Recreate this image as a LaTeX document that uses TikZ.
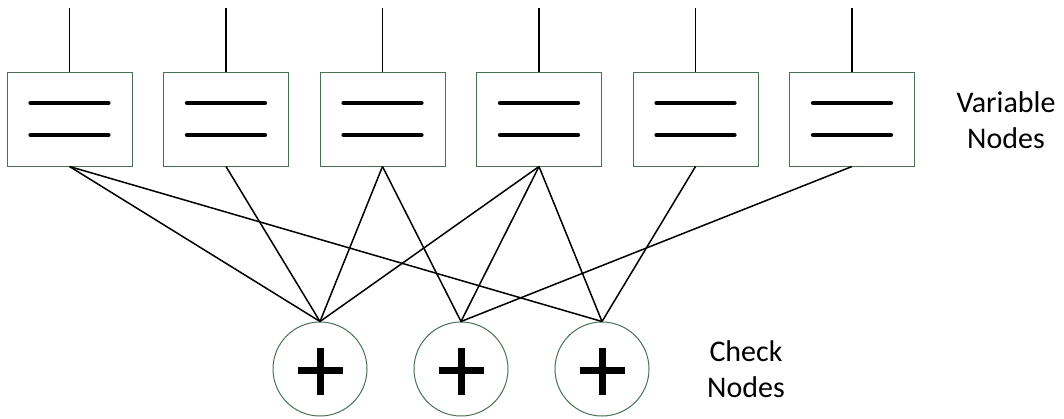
\documentclass[tikz,border=0pt]{standalone}
\usepackage{fontspec}
\setmainfont{Carlito}
\usepackage{tikz}
\definecolor{boxgreen}{RGB}{72,112,84}

\begin{document}
\begin{tikzpicture}[x=1pt,y=-1pt,
  varnode/.style={draw=boxgreen, line width=1pt, rectangle, minimum width=125pt, minimum height=94pt, inner sep=0pt,
    path picture={\draw[black, line width=4.2pt, line cap=round] ([xshift=-39pt,yshift=16pt]path picture bounding box.center)--++(78pt,0pt);
                  \draw[black, line width=4.2pt, line cap=round] ([xshift=-39pt,yshift=-16pt]path picture bounding box.center)--++(78pt,0pt);}},
  checknode/.style={draw=boxgreen, line width=1pt, circle, minimum size=94pt, inner sep=0pt,
    path picture={\draw[black, line width=7pt] ([xshift=-22.5pt,yshift=-1.5pt]path picture bounding box.center)--++(45pt,0pt);
                  \draw[black, line width=7pt] ([yshift=21.5pt]path picture bounding box.center)--++(0pt,-47pt);}},
  edge/.style={line width=1.5pt}]
\useasboundingbox (0,0) rectangle (1064,418);

\node[varnode] (v1) at (69.5,119) {};
\node[varnode] (v2) at (226,119) {};
\node[varnode] (v3) at (382.5,119) {};
\node[varnode] (v4) at (539,119) {};
\node[varnode] (v5) at (695.5,119) {};
\node[varnode] (v6) at (852,119) {};

\node[checknode] (c1) at (320,369) {};
\node[checknode] (c2) at (461,369) {};
\node[checknode] (c3) at (602,369) {};

\coordinate (t1) at (69.5,8);
\coordinate (t2) at (226,8);
\coordinate (t3) at (382.5,8);
\coordinate (t4) at (539,8);
\coordinate (t5) at (695.5,8);
\coordinate (t6) at (852,8);
\draw [edge] (t1)--(v1.north);
\draw [edge] (t2)--(v2.north);
\draw [edge] (t3)--(v3.north);
\draw [edge] (t4)--(v4.north);
\draw [edge] (t5)--(v5.north);
\draw [edge] (t6)--(v6.north);

\draw [edge] (v1.south)--(c1.north);
\draw [edge] (v1.south)--(c3.north);
\draw [edge] (v2.south)--(c1.north);
\draw [edge] (v3.south)--(c1.north);
\draw [edge] (v3.south)--(c2.north);
\draw [edge] (v4.south)--(c1.north);
\draw [edge] (v4.south)--(c2.north);
\draw [edge] (v4.south)--(c3.north);
\draw [edge] (v5.south)--(c3.north);
\draw [edge] (v6.south)--(c2.north);

\node [align=center, font=\fontsize{30}{36}\selectfont] (vlabel) at (1006,120) {Variable\\Nodes};
\node [align=center, font=\fontsize{30}{36}\selectfont] (clabel) at (746,369) {Check\\Nodes};

\end{tikzpicture}
\end{document}
